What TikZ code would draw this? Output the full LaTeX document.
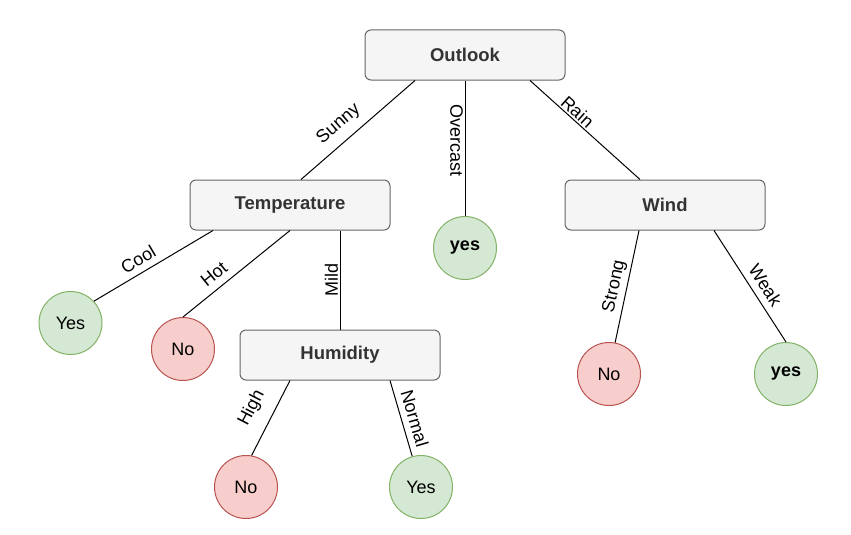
\documentclass[tikz,border=0pt]{standalone}
\usepackage{fontspec}
\setmainfont{Liberation Sans}
\usetikzlibrary{positioning}
\definecolor{boxfill}{HTML}{F5F5F5}
\definecolor{boxline}{HTML}{666666}
\definecolor{boxtext}{HTML}{333333}
\definecolor{yesfill}{HTML}{D5E8D4}
\definecolor{yesline}{HTML}{82B366}
\definecolor{nofill}{HTML}{F8CECC}
\definecolor{noline}{HTML}{B85450}
\tikzstyle{attribute}=[
	rectangle,
	rounded corners=6pt,
	draw=boxline,
	fill=boxfill,
	text=boxtext,
	line width=1pt,
	minimum width=200pt,
	minimum height=50pt,
	font=\fontsize{18.5pt}{21pt}\selectfont\bfseries
]
\tikzstyle{leafyes}=[
	circle,
	draw=yesline,
	fill=yesfill,
	line width=1pt,
	minimum size=63pt,
	inner sep=0pt,
	font=\fontsize{18pt}{21pt}\selectfont
]
\tikzstyle{leafno}=[
	leafyes,
	draw=noline,
	fill=nofill
]
\tikzstyle{branch}=[
	line width=1pt
]
\tikzstyle{attrvalue}=[
	font=\fontsize{18pt}{21pt}\selectfont,
	inner sep=1.5pt
]

\begin{document}
\begin{tikzpicture}[on grid]
\useasboundingbox (0,0) rectangle (851pt,-535pt);
\node [attribute] (Outlook) at (465pt,-55pt) {Outlook};
\node [attribute] (Temperature) [below left=150pt and 175pt of Outlook] {Temperature};
\node [attribute] (Wind) [below right=150pt and 200pt of Outlook] {Wind};
\node [leafyes] (OvercastYes) [below=193pt of Outlook] {\textbf{yes}};
\node [leafyes] (CoolYes) [below left=118pt and 219.5pt of Temperature] {Yes};
\node [leafno] (HotNo) [below left=144pt and 107pt of Temperature] {No};
\node [attribute] (Humidity) [below right=150pt and 50pt of Temperature] {Humidity};
\node [leafno] (HighNo) [below left=132pt and 94pt of Humidity] {No};
\node [leafyes] (NormalYes) [below right=132pt and 81pt of Humidity] {Yes};
\node [leafno] (StrongNo) [below left=169pt and 56pt of Wind] {No};
\node [leafyes] (WeakYes) [below right=169pt and 121pt of Wind] {\textbf{yes}};

\draw [branch] ([xshift=-50pt]Outlook.south) -- node [attrvalue, sloped, above=7pt, pos=.57] {Sunny} ([xshift=11pt]Temperature.north);
\draw [branch] (Outlook.south) -- node [attrvalue, rotate=-90, below=4.5pt, pos=.41] {Overcast} (OvercastYes.north);
\draw [branch] ([xshift=65pt]Outlook.south) -- node [attrvalue, sloped, above, pos=.38] {Rain} ([xshift=-25pt]Wind.north);
\draw [branch] ([xshift=-77pt]Temperature.south) -- node [attrvalue, sloped, above=5pt, pos=.57] {Cool} (CoolYes.43);
\draw [branch] (Temperature.south) -- node [attrvalue, sloped, above=5.5pt, pos=.63] {Hot} (HotNo.north);
\draw [branch] ([xshift=50pt]Temperature.south) -- node [attrvalue, rotate=90, above=5.5pt, pos=.555] {Mild} (Humidity.north);
\draw [branch] ([xshift=-50pt]Humidity.south) -- node [attrvalue, sloped, above=11pt, pos=.5] {High} (HighNo.80);
\draw [branch] ([xshift=50pt]Humidity.south) -- node [attrvalue, sloped, above=4.5pt, pos=.55] {Normal} (NormalYes.106);
\draw [branch] ([xshift=-26pt]Wind.south) -- node [attrvalue, sloped, above=2pt, pos=.52] {Strong} (StrongNo.79);
\draw [branch] ([xshift=49pt]Wind.south) -- node [attrvalue, sloped, above=5pt, pos=.557] {Weak} (WeakYes.north);
\end{tikzpicture}
\end{document}
